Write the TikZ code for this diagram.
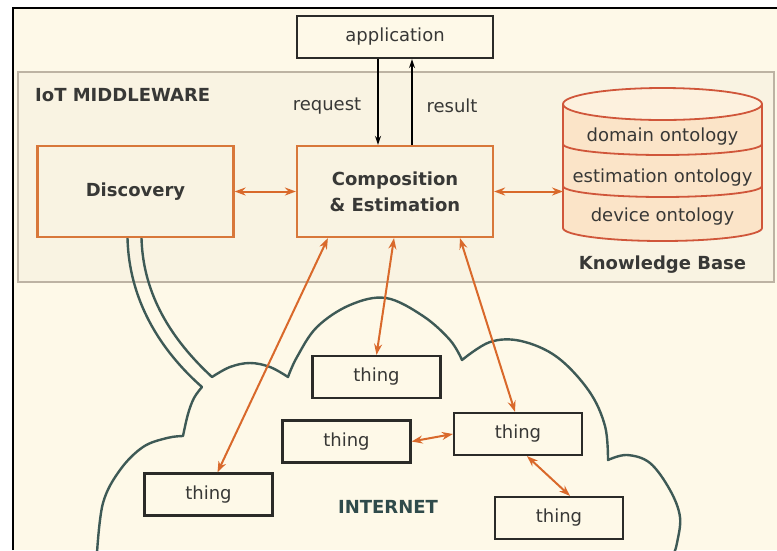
\documentclass[tikz,border=0pt]{standalone}
\usepackage{fontspec}
\setmainfont{DejaVu Sans}
\usetikzlibrary{arrows.meta}

\definecolor{bgcream}{HTML}{FEF9E8}
\definecolor{mwfill}{HTML}{F9F3E2}
\definecolor{mwline}{HTML}{BDB3A3}
\definecolor{modorange}{HTML}{D8773A}
\definecolor{linkorange}{HTML}{D9692B}
\definecolor{kbfill}{HTML}{FBE4C8}
\definecolor{kbtop}{HTML}{FDF1DE}
\definecolor{kbline}{HTML}{D0563A}
\definecolor{boxdark}{HTML}{2B2B28}
\definecolor{txtgray}{HTML}{383836}
\definecolor{cloudteal}{HTML}{3E5A56}
\definecolor{nettext}{HTML}{2F4B4B}

\begin{document}
\begin{tikzpicture}[x=1pt,y=-1pt,
  every node/.style={font=\fontsize{18}{22}\selectfont, text=txtgray},
  bold/.style={font=\fontsize{18}{22}\selectfont\bfseries},
  thingbox/.style={draw=boxdark, line width=2.2pt, fill=bgcream,
    minimum width=128pt, minimum height=42pt, inner sep=0pt},
  modbox/.style={draw=modorange, line width=2.2pt, fill=mwfill,
    minimum width=196pt, minimum height=91pt, align=center,
    font=\fontsize{18}{26}\selectfont\bfseries},
  link/.style={draw=linkorange, line width=2pt,
    {Stealth[length=11pt,width=8pt]}-{Stealth[length=11pt,width=8pt]}},
  call/.style={draw=black, line width=1.5pt, -{Stealth[length=9pt,width=6pt]}},
  cloudline/.style={draw=cloudteal, line width=2.4pt, line join=round},
  kbedge/.style={draw=kbline, line width=1.8pt}]

\useasboundingbox (0,0) rectangle (777,550);
\fill[white] (0,0) rectangle (777,550);
\fill[bgcream] (13,8) rectangle (777,550);
\draw[black, line width=2.5pt] (13,550) -- (13,8) -- (777,8);

\draw[mwline, line width=2pt, fill=mwfill] (18,72) rectangle (774,282);
\node[bold, anchor=west, inner sep=0pt] (mwlabel) at (35,95) {IoT MIDDLEWARE};

\node[thingbox, minimum width=196pt] (app) at (395,37) {application};
\node[modbox] (disc) at (135.5,191.5) {Discovery};
\node[modbox] (comp) at (395,191.5) {Composition\\\& Estimation};

\node (req) at (327,106) {request};
\node (res) at (452,106) {result};

\fill[kbfill] (563,104) -- (563,228)
  arc[start angle=180, end angle=360, x radius=99.5pt, y radius=13pt] -- (762,104) -- cycle;
\draw[kbedge] (563,104) -- (563,228)
  arc[start angle=180, end angle=360, x radius=99.5pt, y radius=13pt] -- (762,104);
\draw[kbedge] (563,144) arc[start angle=180, end angle=360, x radius=99.5pt, y radius=11pt];
\draw[kbedge] (563,186) arc[start angle=180, end angle=360, x radius=99.5pt, y radius=11pt];
\draw[kbedge, fill=kbtop] (662.5,104) ellipse[x radius=99.5pt, y radius=16pt];
\coordinate (kbw) at (563,191.5);
\node (dom) at (662.5,137) {domain ontology};
\node (est) at (662.5,178) {estimation ontology};
\node (dev) at (662.5,217) {device ontology};
\node[bold] (kb) at (662.5,265) {Knowledge Base};

\coordinate (tubeout) at (202,387);
\coordinate (tubein) at (212,377);
\draw[cloudline] plot[smooth, tension=0.6] coordinates
    {(97,553) (103,503) (120,470) (143,447) (167,438) (183,436)}
  -- plot[smooth, tension=0.6] coordinates {(183,436) (188,414) (194,398) (202,387)}
  .. controls (160,350) and (129,300) .. ([xshift=-8pt]disc.south);
\draw[cloudline] ([xshift=6pt]disc.south) .. controls (143,295) and (172,340) .. (tubein)
  -- plot[smooth, tension=0.6] coordinates {(212,377) (230,367) (250,363) (270,367) (288,377)}
  -- plot[smooth, tension=0.6] coordinates
    {(288,377) (297,357) (317,327) (350,305) (386,298) (423,316) (450,340) (462,360)}
  -- plot[smooth, tension=0.6] coordinates
    {(462,360) (490,342) (521,341) (557,357) (589,391) (605,426) (608,460)}
  -- plot[smooth, tension=0.6] coordinates
    {(608,460) (627,455) (650,463) (670,490) (680,517) (677,543) (674,553)};

\node[thingbox] (t1) at (376.5,377) {thing};
\node[thingbox] (t2) at (346.5,441.5) {thing};
\node[thingbox] (t3) at (518,434) {thing};
\node[thingbox] (t4) at (559,518) {thing};
\node[thingbox] (t5) at (208.5,494.5) {thing};
\node[bold, text=nettext] (net) at (388,507) {INTERNET};

\draw[call] ([xshift=-17pt]app.south) -- ([xshift=-17pt]comp.north);
\draw[call] ([xshift=17pt]comp.north) -- ([xshift=17pt]app.south);

\draw[link] (disc.east) -- (comp.west);
\draw[link] (comp.east) -- (kbw);
\draw[link] ([xshift=32pt]comp.south west) -- ([xshift=9pt]t5.north);
\draw[link] ([xshift=-1pt]comp.south) -- (t1.north);
\draw[link] ([xshift=65pt]comp.south) -- ([xshift=-3pt]t3.north);
\draw[link] (t2.east) -- (t3.west);
\draw[link] ([xshift=9pt]t3.south) -- ([xshift=11pt]t4.north);
\end{tikzpicture}
\end{document}
